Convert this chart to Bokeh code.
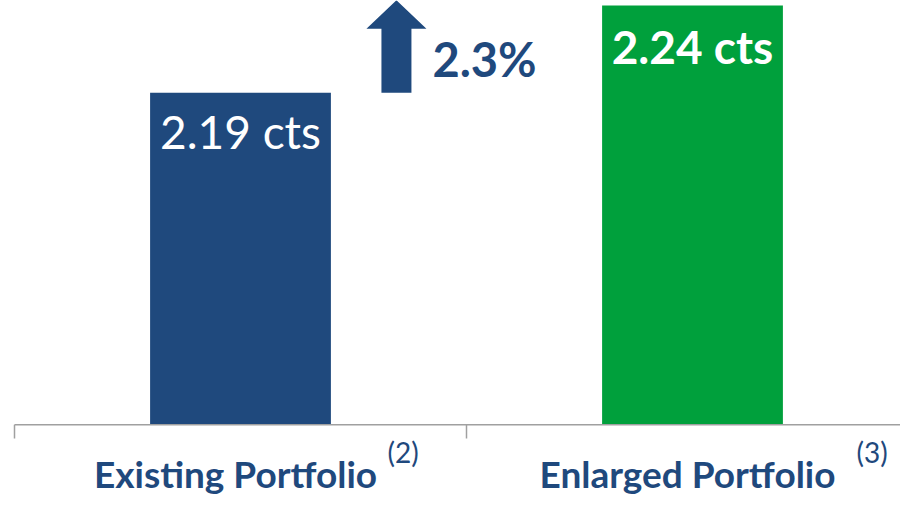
from bokeh.plotting import figure
from bokeh.models import Range1d
from bokeh.core.properties import value
from bokeh.embed import file_html
from bokeh.resources import INLINE

# ---- data ----
categories = ["Existing Portfolio", "Enlarged Portfolio"]
footnotes = ["(2)", "(3)"]
values = [2.19, 2.24]
value_labels = ["2.19 cts", "2.24 cts"]
bar_colors = ["#1F497D", "#00A03C"]
AXIS_MIN = 2.0

# ---- layout constants ----
W, H = 900, 496
PX_X = 452.0           # pixels per category
PX_Y = 1747.0          # pixels per unit of value
BASELINE_PX = 424.3    # distance of the axis line from the top of the figure
NAVY = "#1F497D"
LABEL_FONT = "Lato"
NUM_FONT = "Lato"

x_start = -14.0 / PX_X
y_end = AXIS_MIN + BASELINE_PX / PX_Y
y_start = y_end - H / PX_Y

p = figure(width=W, height=H,
           x_range=Range1d(x_start, x_start + W / PX_X),
           y_range=Range1d(y_start, y_end),
           output_backend="svg", toolbar_location=None,
           x_axis_location=None, y_axis_location=None,
           min_border=0, min_border_left=0, min_border_right=0,
           min_border_top=0, min_border_bottom=0,
           outline_line_color=None, background_fill_color="white",
           border_fill_color="white")
p.grid.visible = False

n = len(categories)
xs = [i + 0.5 for i in range(n)]

# bars
p.vbar(x=xs, top=values, bottom=AXIS_MIN, width=0.4, fill_color=bar_colors,
       line_color=None)

# axis line with boundary ticks
tick_len = 13.7 / PX_Y
p.segment(x0=[0], y0=[AXIS_MIN], x1=[n], y1=[AXIS_MIN], line_color="#A0A0A0",
          line_width=1.5)
bounds = list(range(n + 1))
p.segment(x0=bounds, y0=[AXIS_MIN] * (n + 1), x1=bounds,
          y1=[AXIS_MIN - tick_len] * (n + 1), line_color="#A0A0A0", line_width=1.5)

# value labels inside bars
styles = ["normal", "bold"]
label_offsets = [39, 41]
for i in range(n):
    p.text(x=[xs[i]], y=[values[i]], text=[value_labels[i]], text_align="center",
           text_baseline="alphabetic", y_offset=label_offsets[i], text_color="white",
           text_font=value(NUM_FONT), text_font_size="46px",
           text_font_style=styles[i])

# category labels and footnote marks
p.text(x=xs, y=[AXIS_MIN] * n, text=categories, text_align="center",
       text_baseline="alphabetic", x_offset=-5, y_offset=49, text_color=NAVY,
       text_font=value(LABEL_FONT), text_font_size="37px", text_font_style="bold")
sup_offsets = [147, 164]
for i in range(n):
    p.text(x=[xs[i]], y=[AXIS_MIN], text=[footnotes[i]], text_align="left",
           text_baseline="top", x_offset=sup_offsets[i], y_offset=10,
           text_color=NAVY, text_font=value(LABEL_FONT), text_font_size="28px")

# growth arrow
ax = 1 - 0.155
sh = 15 / PX_X
hh = 30 / PX_X
hl = 28.5 / PX_Y
tail = values[0]
tip = values[1] + 0.003
p.patch(x=[ax - sh, ax + sh, ax + sh, ax + hh, ax, ax - hh, ax - sh],
        y=[tail, tail, tip - hl, tip - hl, tip, tip - hl, tip - hl],
        fill_color=NAVY, line_color=None)

pct = (values[1] / values[0] - 1) * 100
p.text(x=[ax + hh + 6 / PX_X], y=[tail + (tip - tail) * 0.23], text=[f"{pct:.1f}%"],
       text_align="left", text_baseline="alphabetic", y_offset=-13, text_color=NAVY,
       text_font=value(NUM_FONT), text_font_size="47px", text_font_style="bold")

open("out.html", "w").write(file_html(p, INLINE))
